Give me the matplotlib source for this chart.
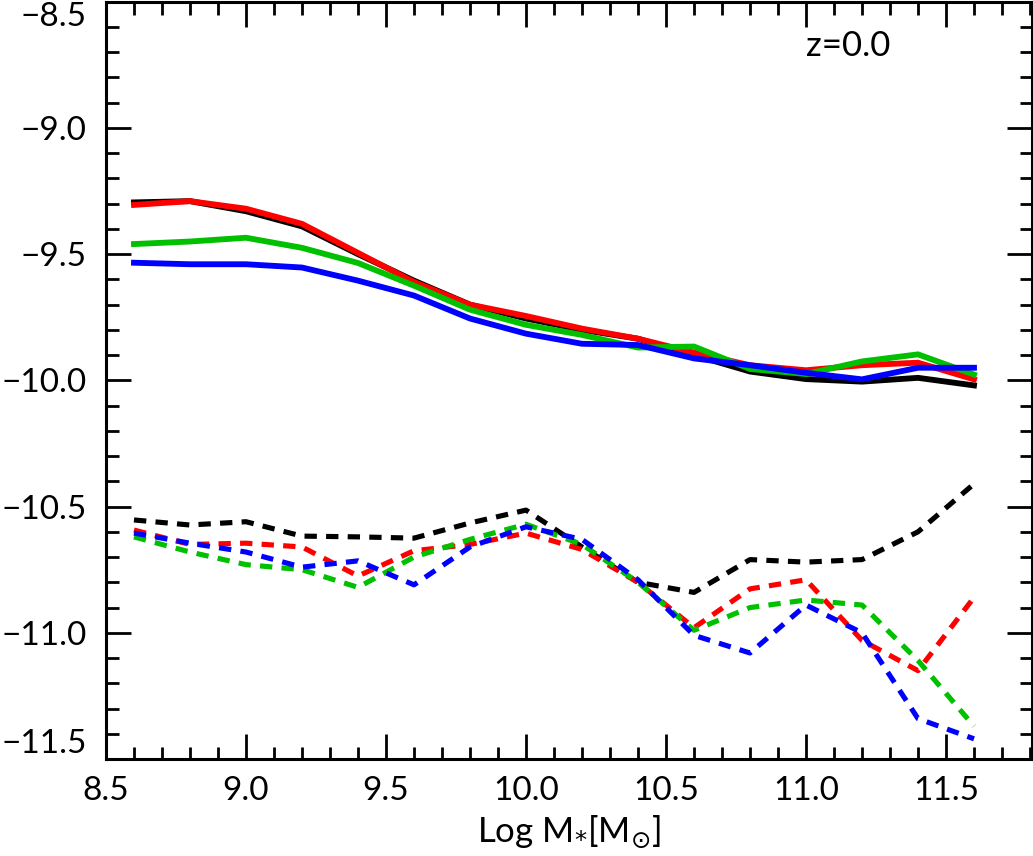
import matplotlib.pyplot as plt
from matplotlib.ticker import MultipleLocator, FuncFormatter

# log stellar mass bins
mass = [8.6, 8.8, 9.0, 9.2, 9.4, 9.6, 9.8, 10.0, 10.2, 10.4, 10.6, 10.8, 11.0, 11.2, 11.4, 11.6]

# solid curves
black_solid = [-9.295, -9.29, -9.33, -9.39, -9.50, -9.605, -9.70, -9.755, -9.80, -9.835, -9.90, -9.965, -9.995, -10.005, -9.99, -10.02]
red_solid = [-9.305, -9.29, -9.32, -9.38, -9.495, -9.61, -9.70, -9.745, -9.795, -9.835, -9.89, -9.94, -9.96, -9.94, -9.93, -9.996]
green_solid = [-9.46, -9.45, -9.435, -9.475, -9.535, -9.625, -9.72, -9.78, -9.82, -9.87, -9.866, -9.955, -9.975, -9.925, -9.897, -9.977]
blue_solid = [-9.534, -9.54, -9.54, -9.553, -9.605, -9.664, -9.755, -9.815, -9.855, -9.86, -9.913, -9.94, -9.97, -9.996, -9.95, -9.95]

# dashed curves
black_dash = [-10.553, -10.573, -10.56, -10.617, -10.62, -10.625, -10.565, -10.514, -10.66, -10.80, -10.84, -10.71, -10.72, -10.71, -10.60, -10.41]
red_dash = [-10.593, -10.65, -10.645, -10.66, -10.775, -10.675, -10.65, -10.605, -10.67, -10.80, -10.98, -10.826, -10.79, -11.03, -11.15, -10.86]
green_dash = [-10.62, -10.68, -10.73, -10.75, -10.82, -10.70, -10.63, -10.57, -10.65, -10.80, -10.99, -10.90, -10.87, -10.89, -11.11, -11.37]
blue_dash = [-10.605, -10.645, -10.68, -10.74, -10.715, -10.81, -10.66, -10.58, -10.63, -10.79, -11.01, -11.08, -10.89, -11.0, -11.34, -11.42]

xticks = [8.5, 9.0, 9.5, 10.0, 10.5, 11.0, 11.5]
yticks = [-11.5, -11.0, -10.5, -10.0, -9.5, -9.0, -8.5]

colors = ['black', '#ff0000', '#00c000', '#0000ff']

plt.rcParams['font.family'] = ['Lato', 'DejaVu Sans']
plt.rcParams['mathtext.fontset'] = 'dejavusans'

fig = plt.figure(figsize=(10.33, 8.56), dpi=100)
ax = fig.add_axes([0.1026, 0.1133, 0.8964, 0.8847])

for ys, c in zip([black_solid, red_solid, green_solid, blue_solid], colors):
    ax.plot(mass, ys, color=c, lw=4.2, solid_joinstyle='miter')
for ys, c in zip([black_dash, red_dash, green_dash, blue_dash], colors):
    ax.plot(mass, ys, color=c, lw=3.7, dashes=(2.4, 1.8), dash_capstyle='butt')

ax.set_xlim(8.5, 11.807)
ax.set_ylim(-11.5, -8.5)
ax.set_xticks(xticks)
ax.set_yticks(yticks)
ax.xaxis.set_minor_locator(MultipleLocator(0.1))
ax.yaxis.set_minor_locator(MultipleLocator(0.1))
fmt = FuncFormatter(lambda v, p: ('%.1f' % v).replace('-', '\u2212'))
ax.xaxis.set_major_formatter(fmt)
ax.yaxis.set_major_formatter(fmt)

ax.tick_params(which='both', direction='in', top=True, right=True, width=2, labelsize=24)
ax.tick_params(which='major', length=18)
ax.tick_params(which='minor', length=9)
ax.tick_params(axis='x', pad=12)
ax.tick_params(axis='y', pad=14)
for sp in ax.spines.values():
    sp.set_linewidth(2.2)

# keep the end labels inside the figure
yt = ax.yaxis.get_major_ticks()
yt[0].label1.set_va('bottom')
yt[-1].label1.set_va('top')

ax.set_xlabel(r'Log M$_{*}$[M$_{\odot}$]', fontsize=25, labelpad=6)
ax.text(11.0, -8.676, 'z=0.0', fontsize=25, va='center', ha='left')

plt.savefig('out.png', dpi=100)
